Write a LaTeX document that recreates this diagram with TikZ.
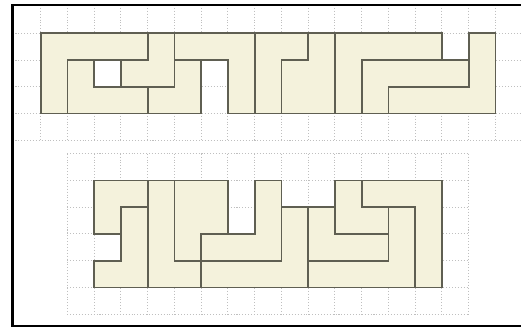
\documentclass[tikz,border=0pt]{standalone}
\begin{document}
\begin{tikzpicture}[x=0.5cm,y=-0.5cm,
  gridline/.style={densely dotted, draw=black!25, line width=0.55pt},
  piece/.style={fill=pieceFill, draw=pieceEdge, line width=0.95pt, line join=miter},
  frameline/.style={draw=black, line width=1.5pt}]
\definecolor{pieceFill}{HTML}{F4F2DC}
\definecolor{pieceEdge}{HTML}{5F5F52}
\clip (-1.52,-1.245) rectangle (17.955,10.98);
\fill[white] (-1.52,-1.245) rectangle (17.955,10.98);
% top grid
\foreach \i in {-1,...,18} \draw[gridline] (\i,-1.06) -- (\i,4);
\foreach \j in {0,...,4} \draw[gridline] (-1.05,\j) -- (18.5,\j);
% bottom grid
\foreach \i in {1,...,16} \draw[gridline] (\i,4.5) -- (\i,10.5);
\foreach \j in {4.5,5.5,...,10.5} \draw[gridline] (1,\j) -- (16,\j);
% top figure
\draw[piece] (0,0)--(4,0)--(4,1)--(1,1)--(1,3)--(0,3)--cycle;
\draw[piece] (1,1)--(2,1)--(2,2)--(4,2)--(4,3)--(1,3)--cycle;
\draw[piece] (4,0)--(5,0)--(5,2)--(3,2)--(3,1)--(4,1)--cycle;
\draw[piece] (5,1)--(6,1)--(6,3)--(4,3)--(4,2)--(5,2)--cycle;
\draw[piece] (5,0)--(8,0)--(8,3)--(7,3)--(7,1)--(5,1)--cycle;
\draw[piece] (8,0)--(10,0)--(10,1)--(9,1)--(9,3)--(8,3)--cycle;
\draw[piece] (10,0)--(11,0)--(11,3)--(9,3)--(9,1)--(10,1)--cycle;
\draw[piece] (11,0)--(15,0)--(15,1)--(12,1)--(12,3)--(11,3)--cycle;
\draw[piece] (12,1)--(16,1)--(16,2)--(13,2)--(13,3)--(12,3)--cycle;
\draw[piece] (16,0)--(17,0)--(17,3)--(13,3)--(13,2)--(16,2)--cycle;
% bottom figure
\begin{scope}[yshift=-2.75cm]
\draw[piece] (2,0)--(4,0)--(4,1)--(3,1)--(3,2)--(2,2)--cycle;
\draw[piece] (3,1)--(4,1)--(4,4)--(2,4)--(2,3)--(3,3)--cycle;
\draw[piece] (4,0)--(5,0)--(5,3)--(6,3)--(6,4)--(4,4)--cycle;
\draw[piece] (5,0)--(7,0)--(7,2)--(6,2)--(6,3)--(5,3)--cycle;
\draw[piece] (8,0)--(9,0)--(9,3)--(6,3)--(6,2)--(8,2)--cycle;
\draw[piece] (9,1)--(10,1)--(10,4)--(6,4)--(6,3)--(9,3)--cycle;
\draw[piece] (10,1)--(11,1)--(11,2)--(13,2)--(13,3)--(10,3)--cycle;
\draw[piece] (11,0)--(12,0)--(12,1)--(13,1)--(13,2)--(11,2)--cycle;
\draw[piece] (12,0)--(15,0)--(15,4)--(14,4)--(14,1)--(12,1)--cycle;
\draw[piece] (13,1)--(14,1)--(14,4)--(10,4)--(10,3)--(13,3)--cycle;
\end{scope}
% frame
\draw[frameline] (18.5,-1.06) -- (-1.05,-1.06) -- (-1.05,10.94) -- (18.5,10.94);
\end{tikzpicture}
\end{document}
